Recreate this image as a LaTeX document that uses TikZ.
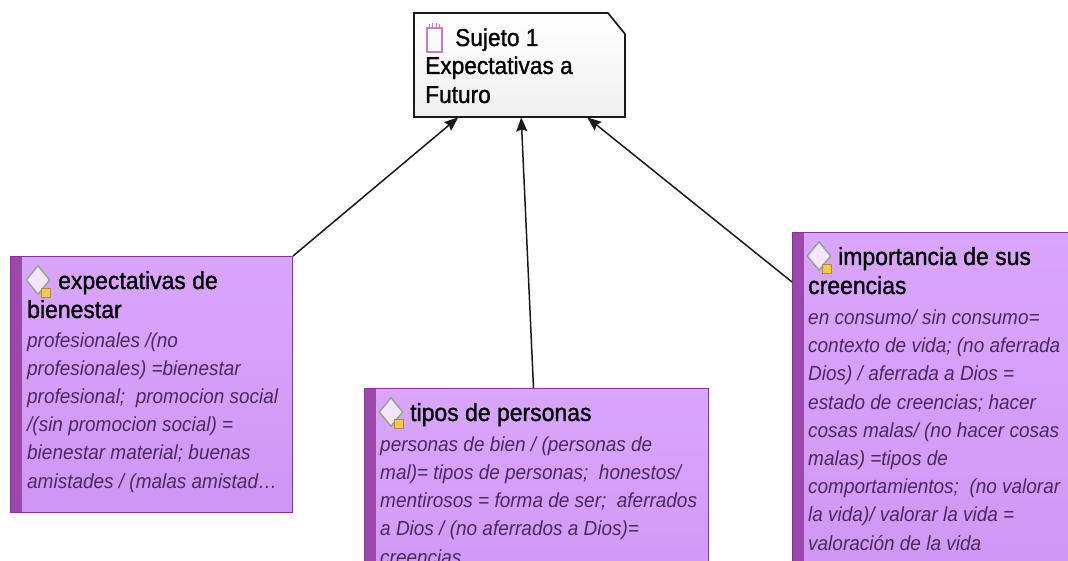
\documentclass[tikz,border=0pt]{standalone}
\usepackage{fontspec}
\setmainfont[FakeStretch=0.93]{Liberation Sans}
\newfontfamily\titlefont[FakeStretch=0.93,FakeBold=1.2]{Liberation Sans}
\usetikzlibrary{shapes.geometric,arrows.meta,calc}
\definecolor{boxborder}{HTML}{8B2F9E}
\definecolor{boxbar}{HTML}{9C47AB}
\definecolor{boxa}{HTML}{D9A6FC}
\definecolor{boxb}{HTML}{CE96F4}
\definecolor{bodytext}{HTML}{4A2A5E}
\definecolor{iconline}{HTML}{8FA58C}
\definecolor{iconfill}{HTML}{F3E6FB}
\definecolor{notefill}{HTML}{F5C84B}
\definecolor{pinkicon}{HTML}{D07CB4}
\tikzset{
  x=1pt,y=-1pt,
  codebox/.style={draw=boxborder,line width=1pt,shading=axis,top color=boxa,bottom color=boxb,shading angle=0,inner sep=0pt,anchor=north west},
  barbox/.style={fill=boxbar,draw=none,inner sep=0pt,anchor=north west},
  titletext/.style={inner sep=0pt,anchor=base west,align=left,text=black,font=\titlefont\fontsize{24.7}{28}\selectfont},
  bodytxt/.style={inner sep=0pt,anchor=base west,align=left,text=bodytext,font=\fontsize{20.4}{28.2}\selectfont\itshape},
  memobox/.style={inner sep=0pt,anchor=base west,align=left,text=black,font=\titlefont\fontsize{24.4}{28}\selectfont},
  link/.style={draw=black!90,line width=1.5pt,-{Stealth[length=14pt,width=11pt,inset=2pt]}},
  codeicon/.style={diamond,draw=iconline,fill=iconfill,line width=1.4pt,minimum width=24pt,minimum height=29pt,inner sep=0pt},
  noteicon/.style={fill=notefill,draw=notefill!70!black,line width=.4pt,minimum width=9pt,minimum height=9pt,inner sep=0pt},
}
\begin{document}
\begin{tikzpicture}
\useasboundingbox (0,0) rectangle (1068,561);
\clip (0,0) rectangle (1068,561);
\fill[white] (0,0) rectangle (1068,561);

% memo
\filldraw[draw=black!90,line width=1.7pt,top color=white,bottom color=black!6]
  (414,13) -- (608,13) -- (625,34) -- (625,117) -- (414,117) -- cycle;
\node[inner sep=0pt,minimum width=211pt,minimum height=104pt,anchor=north west] (main) at (414,13) {};
\draw[pinkicon,line width=1.1pt] (427,28) rectangle (442,52);
\draw[pinkicon,line width=1pt] (429,27) -- (429,24) (432.5,27) -- (432.5,23) (436,27) -- (436,23) (439.5,27) -- (439.5,24);
\node[memobox] (mainA) at (455,46) {Sujeto 1};
\node[memobox] (mainB) at (425,74) {Expectativas a};
\node[memobox] (mainC) at (425,103) {Futuro};

% left
\node[codebox,minimum width=282pt,minimum height=256pt] (left) at (10,256) {};
\node[barbox,minimum width=11pt,minimum height=255pt] (leftbar) at (10.5,256.5) {};
\node[codeicon] (lefticon) at (38,280) {};
\node[noteicon] (leftnote) at (46,293) {};
\node[titletext] (leftT1) at (58,289) {expectativas de};
\node[titletext] (leftT2) at (27,318) {bienestar};
\node[bodytxt] (leftB) at (27,488) {profesionales /(no\\profesionales) =bienestar\\profesional;\ \ promocion social\\/(sin promocion social) =\\bienestar material; buenas\\amistades / (malas amistad…};

% middle
\node[codebox,minimum width=344pt,minimum height=220pt] (mid) at (364,388) {};
\node[barbox,minimum width=11pt,minimum height=219pt] (midbar) at (364.5,388.5) {};
\node[codeicon] (midicon) at (391,412) {};
\node[noteicon] (midnote) at (399,424) {};
\node[titletext] (midT1) at (410,421) {tipos de personas};
\node[bodytxt] (midB) at (380,564) {personas de bien / (personas de\\mal)= tipos de personas;\ \ honestos/\\mentirosos = forma de ser;\ \ aferrados\\a Dios / (no aferrados a Dios)=\\creencias};

% right
\node[codebox,minimum width=300pt,minimum height=370pt] (right) at (792,232) {};
\node[barbox,minimum width=11pt,minimum height=369pt] (rightbar) at (792.5,232.5) {};
\node[codeicon] (righticon) at (819,256) {};
\node[noteicon] (rightnote) at (827,269) {};
\node[titletext] (rightT1) at (838,265) {importancia de sus};
\node[titletext] (rightT2) at (808,294) {creencias};
\node[bodytxt] (rightB) at (808,550) {en consumo/ sin consumo=\\contexto de vida; (no aferrada\\Dios) / aferrada a Dios =\\estado de creencias; hacer\\cosas malas/ (no hacer cosas\\malas) =tipos de\\comportamientos;\ \ (no valorar\\la vida)/ valorar la vida =\\valoración de la vida};

% connectors
\draw[link] (left.north east) -- ([xshift=-61.5pt]main.south);
\draw[link] ([xshift=-3pt]mid.north) -- ([xshift=1.5pt]main.south);
\draw[link] ([yshift=-50pt]right.north west) -- ([xshift=67.5pt]main.south);
\end{tikzpicture}
\end{document}
